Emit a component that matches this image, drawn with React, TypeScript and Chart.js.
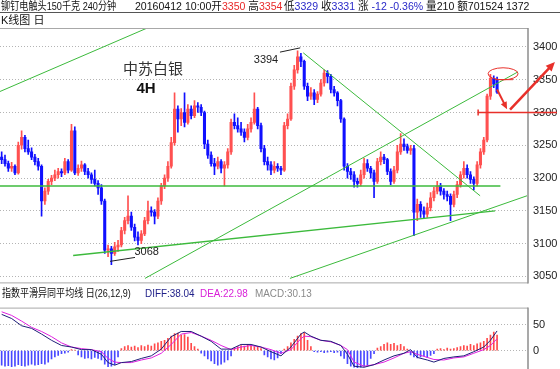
import React, { useEffect, useRef } from "react";
import { Chart, registerables } from "chart.js";

Chart.register(...registerables);

const OPEN = [
  3232,3228,3222,3215,3218,3208,3250,3262,3245,3240,
  3232,3225,3218,3165,3180,3195,3200,3205,3210,3208,
  3225,3212,3272,3208,3215,3220,3210,3205,3198,3192,
  3185,3165,3090,3092,3085,3095,3098,3120,3135,3142,
  3125,3110,3105,3115,3135,3150,3148,3142,3165,3188,
  3200,3218,3254,3305,3290,3300,3285,3305,3295,3310,
  3308,3300,3252,3235,3222,3218,3225,3215,3220,3240,
  3285,3280,3275,3270,3262,3275,3285,3305,3280,3245,
  3225,3220,3212,3218,3215,3212,3280,3290,3340,3365,
  3385,3378,3340,3325,3330,3320,3328,3345,3360,3355,
  3335,3330,3318,3290,3218,3210,3205,3195,3192,3205,
  3222,3215,3208,3195,3225,3232,3228,3210,3195,3212,
  3240,3252,3248,3242,3245,3148,3160,3150,3145,3155,
  3170,3180,3188,3180,3175,3172,3160,3175,3190,3205,
  3215,3205,3198,3192,3220,3240,3258,3325,3352,3350,
];
const HIGH = [
  3240,3235,3226,3224,3220,3255,3272,3265,3258,3246,
  3236,3230,3220,3185,3198,3204,3212,3215,3214,3230,
  3228,3282,3278,3220,3226,3222,3215,3208,3212,3196,
  3190,3168,3098,3096,3102,3105,3125,3140,3173,3148,
  3130,3118,3120,3140,3165,3156,3152,3170,3192,3205,
  3225,3262,3330,3310,3306,3330,3312,3310,3318,3315,
  3312,3302,3258,3240,3230,3232,3228,3225,3245,3290,
  3298,3292,3285,3275,3282,3292,3330,3308,3284,3250,
  3232,3225,3225,3222,3218,3285,3298,3345,3372,3394,
  3390,3380,3345,3338,3335,3332,3350,3365,3364,3358,
  3340,3332,3320,3292,3222,3215,3210,3200,3212,3230,
  3228,3218,3212,3230,3240,3236,3230,3214,3218,3250,
  3268,3260,3252,3250,3250,3168,3164,3156,3162,3178,
  3186,3195,3192,3184,3180,3176,3180,3195,3210,3225,
  3220,3210,3202,3225,3245,3262,3328,3358,3356,3354,
];
const LOW = [
  3222,3218,3210,3210,3205,3206,3244,3240,3236,3228,
  3220,3212,3142,3160,3175,3190,3196,3200,3202,3205,
  3208,3210,3205,3204,3210,3205,3200,3192,3188,3175,
  3160,3085,3080,3068,3082,3088,3095,3115,3130,3120,
  3104,3098,3100,3112,3130,3142,3130,3138,3160,3184,
  3195,3215,3250,3270,3280,3278,3282,3290,3292,3300,
  3295,3245,3230,3218,3205,3214,3208,3188,3215,3236,
  3275,3270,3265,3255,3258,3270,3282,3275,3240,3220,
  3212,3205,3208,3210,3205,3210,3275,3288,3335,3360,
  3370,3335,3318,3320,3312,3315,3325,3340,3345,3330,
  3325,3310,3285,3212,3200,3198,3186,3186,3188,3200,
  3210,3200,3170,3192,3220,3222,3205,3190,3192,3208,
  3236,3242,3238,3236,3112,3135,3140,3138,3140,3150,
  3165,3176,3174,3168,3165,3135,3156,3170,3186,3200,
  3200,3192,3182,3188,3215,3236,3255,3320,3338,3329,
];
const CLOSE = [
  3228,3222,3215,3218,3208,3250,3262,3245,3240,3232,
  3225,3218,3165,3180,3195,3200,3205,3210,3208,3225,
  3212,3272,3208,3215,3220,3210,3205,3198,3192,3185,
  3165,3090,3092,3085,3095,3098,3120,3135,3142,3125,
  3110,3105,3115,3135,3150,3148,3142,3165,3188,3200,
  3218,3254,3305,3290,3300,3285,3305,3295,3310,3308,
  3300,3252,3235,3222,3218,3225,3215,3220,3240,3285,
  3280,3275,3270,3262,3275,3285,3305,3280,3245,3225,
  3220,3212,3218,3215,3212,3280,3290,3340,3365,3385,
  3378,3340,3325,3330,3320,3328,3345,3360,3355,3335,
  3330,3318,3290,3218,3210,3205,3195,3192,3205,3222,
  3215,3208,3195,3225,3232,3228,3210,3195,3212,3240,
  3252,3248,3242,3245,3148,3160,3150,3145,3155,3170,
  3180,3188,3180,3175,3172,3160,3175,3190,3205,3215,
  3205,3198,3192,3220,3240,3258,3325,3352,3343,3331,
];

const PRICE_TICKS = [3050, 3100, 3150, 3200, 3250, 3300, 3350, 3400];
const MACD_TICKS = [0, 50];

const MACD_HIST = [
  -28,-30,-29,-31,-30,-27,-29,-30,-28,-26,-28,-27,-25,-26,-22,
  -16,-12,-9,
  -6,-5,-3,
  2,1,
  -8,-12,-15,-14,-16,-13,-15,-18,
  -26,-31,-30,-27,
  -12,
  4,8,10,7,9,6,10,8,11,9,
  13,15,18,20,24,
  28,33,34,30,31,26,
  14,8,3,
  -5,-10,-16,-20,-25,-28,-26,-22,-18,-10,
  5,8,10,9,12,10,8,7,4,
  -8,-12,-16,-18,-14,-6,
  3,8,15,22,28,33,35,
  20,8,
  -2,-3,-2,-4,-3,-2,-4,-3,
  -10,-15,
  -25,-30,-32,-33,-32,-30,-28,
  -15,-6,
  5,8,12,15,12,14,10,
  12,8,3,
  -8,-12,-14,-12,-10,-13,-9,-6,
  3,4,2,5,3,4,6,
  8,10,9,12,10,13,
  15,18,24,30,36,30.13,
];

const MACD_X = [0,3,6,9,12,15,18,21,24,27,30,32,34,36,39,42,45,48,51,54,57,60,63,66,69,72,75,78,81,84,87,90,91,93,96,99,102,104,106,109,112,115,118,121,123,125,128,130,133,136,139,142,145,147,149];
const DIFF = [70,62,48,43,32,20,10,7,2,2,-7,-23,-28,-23,-21,-15,-10,3,27,37,37,28,18,3,3,12,12,7,-2,-10,7,32,36,28,20,18,10,-7,-30,-32,-27,-18,-10,-5,2,-13,-18,-22,-15,-12,-10,-2,7,20,38.04];
const DEA = [75,68,57,45,37,27,15,7,4,2,-2,-15,-22,-23,-23,-18,-14,-5,12,32,35,28,20,10,2,7,10,7,2,-5,2,23,28,27,20,17,10,2,-22,-30,-27,-22,-14,-5,-2,-7,-13,-17,-18,-14,-12,-5,2,10,22.98];

// hand-drawn trend lines: [x1, price1, x2, price2] in candle-index / price units
const GREEN_LINES = [
  [-0.5, 3332, 48, 3438],
  [-0.5, 3188, 150, 3188],
  [43.1, 3047, 155.3, 3362],
  [21.5, 3082, 148.4, 3150],
  [86.7, 3047, 158, 3173],
  [90.7, 3391, 143.9, 3173],
];
const GREEN_WIDTHS = [1, 1.6, 1, 1.4, 1, 1];
const BLACK_LINES = [
  [83.7, 3392, 89.8, 3398.5],
  [32.6, 3073, 40.1, 3079],
];
const TEXT_NOTES = [
  { text: "中苏白银", x: 45.5, y: 3367 },
  { text: "4H", x: 43.4, y: 3336 },
  { text: "3394", x: 79.5, y: 3380 },
  { text: "3068", x: 43.6, y: 3088 },
];
const RED_ELLIPSE = [150.8, 3359];
const RED_STUB = [148.4, 153.8, 3350];
const RED_LEVEL = [143.3, 167.0, 3300];
const RED_ARROWS = [
  [149, 3335, 152, 3305],
  [152.9, 3304.5, 166.4, 3377],
];

const X_MIN = -0.5;
const X_MAX = 158.3;
const UP = "#ff5050";
const DOWN = "#1010ff";
const RED = "#e8302a";
const FONT = "'Liberation Sans', 'Noto Sans CJK SC', sans-serif";

function framePlugin(id: string) {
  return {
    id,
    afterDraw(chart: any) {
      const { ctx, chartArea: a } = chart;
      ctx.save();
      ctx.strokeStyle = "#a8a8a8";
      ctx.lineWidth = 1;
      ctx.beginPath();
      ctx.moveTo(0, a.top + 0.5);
      ctx.lineTo(a.right, a.top + 0.5);
      ctx.moveTo(0, a.bottom - 0.5);
      ctx.lineTo(a.right, a.bottom - 0.5);
      ctx.stroke();
      ctx.strokeStyle = "#8c8c8c";
      ctx.lineWidth = 1.5;
      ctx.beginPath();
      ctx.moveTo(a.right, a.top);
      ctx.lineTo(a.right, a.bottom);
      ctx.stroke();
      ctx.restore();
    },
  };
}

function drawArrow(ctx: CanvasRenderingContext2D, x1: number, y1: number, x2: number, y2: number, w: number, head: number) {
  const ang = Math.atan2(y2 - y1, x2 - x1);
  ctx.lineWidth = w;
  ctx.beginPath();
  ctx.moveTo(x1, y1);
  ctx.lineTo(x2 - Math.cos(ang) * head * 0.6, y2 - Math.sin(ang) * head * 0.6);
  ctx.stroke();
  ctx.beginPath();
  ctx.moveTo(x2, y2);
  ctx.lineTo(x2 - head * Math.cos(ang - 0.42), y2 - head * Math.sin(ang - 0.42));
  ctx.lineTo(x2 - head * Math.cos(ang + 0.42), y2 - head * Math.sin(ang + 0.42));
  ctx.closePath();
  ctx.fill();
}

const notesPlugin = {
  id: "notes",
  afterDraw(chart: any) {
    const { ctx } = chart;
    const sx = chart.scales.x;
    const sy = chart.scales.y;
    const X = (v: number) => sx.getPixelForValue(v);
    const Y = (v: number) => sy.getPixelForValue(v);
    ctx.save();
    ctx.strokeStyle = "#222";
    ctx.lineWidth = 1;
    BLACK_LINES.forEach((l) => {
      ctx.beginPath();
      ctx.moveTo(X(l[0]), Y(l[1]));
      ctx.lineTo(X(l[2]), Y(l[3]));
      ctx.stroke();
    });
    ctx.textAlign = "center";
    ctx.textBaseline = "middle";
    TEXT_NOTES.forEach((t, i) => {
      if (i === 0) {
        ctx.font = "15px 'Noto Sans CJK SC'";
        ctx.fillStyle = "#333";
      } else if (i === 1) {
        ctx.font = "bold 15px 'Liberation Sans'";
        ctx.fillStyle = "#111";
      } else {
        ctx.font = "11px 'Liberation Sans'";
        ctx.fillStyle = "#222";
      }
      ctx.fillText(t.text, X(t.x), Y(t.y));
    });
    ctx.strokeStyle = RED;
    ctx.fillStyle = RED;
    ctx.lineWidth = 1;
    ctx.beginPath();
    ctx.ellipse(X(RED_ELLIPSE[0]), Y(RED_ELLIPSE[1]), 15, 6, 0, 0, Math.PI * 2);
    ctx.stroke();
    ctx.beginPath();
    ctx.moveTo(X(RED_STUB[0]), Y(RED_STUB[2]));
    ctx.lineTo(X(RED_STUB[1]), Y(RED_STUB[2]));
    ctx.stroke();
    ctx.lineWidth = 1.5;
    const ly = Y(RED_LEVEL[2]);
    ctx.beginPath();
    ctx.moveTo(X(RED_LEVEL[0]), ly);
    ctx.lineTo(X(RED_LEVEL[1]), ly);
    ctx.moveTo(X(RED_LEVEL[0]), ly - 3);
    ctx.lineTo(X(RED_LEVEL[0]), ly + 3);
    ctx.stroke();
    drawArrow(ctx, X(RED_ARROWS[0][0]), Y(RED_ARROWS[0][1]), X(RED_ARROWS[0][2]), Y(RED_ARROWS[0][3]), 2, 8);
    drawArrow(ctx, X(RED_ARROWS[1][0]), Y(RED_ARROWS[1][1]), X(RED_ARROWS[1][2]), Y(RED_ARROWS[1][3]), 2.5, 10);
    ctx.restore();
  },
};

export default function App() {
  const priceRef = useRef<HTMLCanvasElement>(null);
  const macdRef = useRef<HTMLCanvasElement>(null);

  useEffect(() => {
    const colors = CLOSE.map((c, i) => (c >= OPEN[i] ? UP : DOWN));
    const tickFont = { family: "'Liberation Sans'", size: 11 };
    const plainTick = (v: any) => String(v);
    const priceChart = new Chart(priceRef.current as HTMLCanvasElement, {
      type: "bar",
      data: {
        datasets: [
          ...GREEN_LINES.map((l, i) => ({
            type: "line" as const,
            data: [
              { x: l[0], y: l[1] },
              { x: l[2], y: l[3] },
            ],
            borderColor: "#3cba3c",
            borderWidth: GREEN_WIDTHS[i],
            pointRadius: 0,
            order: 1,
          })),
          {
            type: "bar" as const,
            data: CLOSE.map((_, i) => ({ x: i, y: [LOW[i], HIGH[i]] })),
            backgroundColor: colors,
            barThickness: 1,
            grouped: false,
            order: 3,
          },
          {
            type: "bar" as const,
            data: CLOSE.map((c, i) => ({ x: i, y: [OPEN[i], c] })),
            backgroundColor: colors,
            barThickness: 2.4,
            minBarLength: 1,
            grouped: false,
            order: 2,
          },
        ] as any,
      },
      options: {
        responsive: false,
        animation: false,
        devicePixelRatio: 1,
        events: [],
        layout: { padding: { top: 28, bottom: 10, left: 0, right: 0 } },
        scales: {
          x: { type: "linear", min: X_MIN, max: X_MAX, display: false, offset: false },
          y: {
            position: "right",
            min: 3039.4,
            max: 3428.8,
            afterBuildTicks: (s: any) => {
              s.ticks = PRICE_TICKS.map((v) => ({ value: v }));
            },
            afterFit: (s: any) => {
              s.width = 32;
            },
            grid: { color: "#b4b4b4", drawTicks: false, lineWidth: 1 },
            border: { display: false, dash: [1, 2] },
            ticks: { padding: 5, color: "#222", font: tickFont, callback: plainTick },
          },
        },
        plugins: { legend: { display: false }, tooltip: { enabled: false } },
      } as any,
      plugins: [framePlugin("frame1"), notesPlugin],
    });

    const macdChart = new Chart(macdRef.current as HTMLCanvasElement, {
      type: "bar",
      data: {
        datasets: [
          {
            type: "line" as const,
            data: MACD_X.map((x, i) => ({ x, y: DIFF[i] })),
            borderColor: "#1e1e78",
            borderWidth: 1,
            pointRadius: 0,
            order: 1,
          },
          {
            type: "line" as const,
            data: MACD_X.map((x, i) => ({ x, y: DEA[i] })),
            borderColor: "#e020e0",
            borderWidth: 1,
            pointRadius: 0,
            order: 1,
          },
          {
            type: "bar" as const,
            data: MACD_HIST.map((v, i) => ({ x: i, y: v })),
            backgroundColor: MACD_HIST.map((v) => (v >= 0 ? "#ff4a4a" : "#4848ff")),
            barThickness: 1,
            grouped: false,
            order: 2,
          },
        ] as any,
      },
      options: {
        responsive: false,
        animation: false,
        devicePixelRatio: 1,
        events: [],
        layout: { padding: { top: 4, bottom: 10, left: 0, right: 0 } },
        scales: {
          x: { type: "linear", min: X_MIN, max: X_MAX, display: false, offset: false },
          y: {
            position: "right",
            min: -45.76,
            max: 83.05,
            afterBuildTicks: (s: any) => {
              s.ticks = MACD_TICKS.map((v) => ({ value: v }));
            },
            afterFit: (s: any) => {
              s.width = 32;
            },
            grid: { color: "#b4b4b4", drawTicks: false, lineWidth: 1 },
            border: { display: false, dash: [1, 2] },
            ticks: { padding: 5, color: "#222", font: tickFont, callback: plainTick },
          },
        },
        plugins: { legend: { display: false }, tooltip: { enabled: false } },
      } as any,
      plugins: [framePlugin("frame2")],
    });

    return () => {
      priceChart.destroy();
      macdChart.destroy();
    };
  }, []);

  const txt: React.CSSProperties = {
    position: "absolute",
    fontFamily: FONT,
    fontSize: 11,
    lineHeight: "12px",
    whiteSpace: "nowrap",
    color: "#111",
    transformOrigin: "0 0",
  };
  const red = { color: "#e82828" };
  const blue = { color: "#2828c8" };

  return (
    <div
      style={{
        position: "fixed",
        left: 0,
        top: 0,
        width: 560,
        height: 369,
        overflow: "hidden",
        background: "#fff",
      }}
    >
      <canvas ref={priceRef} width={560} height={295} style={{ position: "absolute", left: 0, top: 0 }} />
      <canvas ref={macdRef} width={560} height={90} style={{ position: "absolute", left: 0, top: 296 }} />
      <div style={{ ...txt, left: 1, top: 0, transform: "scaleX(0.83)" }}>铆钉电触头150千克 240分钟</div>
      <div style={{ ...txt, left: 135, top: 0, transform: "scaleX(0.96)" }}>
        20160412 10:00开<span style={red}>3350</span> 高<span style={red}>3354</span>
      </div>
      <div style={{ ...txt, left: 284, top: 0, transform: "scaleX(0.96)" }}>
        低<span style={blue}>3329</span> 收<span style={blue}>3331</span> 涨 <span style={blue}>-12 -0.36%</span> 量210 额701524 1372
      </div>
      <div style={{ position: "absolute", left: 0, top: 12, width: 560, height: 1, background: "#555" }} />
      <div style={{ ...txt, left: 1, top: 14 }}>K线图 日</div>
      <div style={{ ...txt, left: 2, top: 287, transform: "scaleX(0.82)" }}>指数平滑异同平均线 日(26,12,9)</div>
      <div style={{ ...txt, left: 145, top: 287, color: "#22228a", transform: "scaleX(0.9)" }}>DIFF:38.04</div>
      <div style={{ ...txt, left: 200, top: 287, color: "#d81ed8", transform: "scaleX(0.9)" }}>DEA:22.98</div>
      <div style={{ ...txt, left: 255, top: 287, color: "#8a8a8a", transform: "scaleX(0.9)" }}>MACD:30.13</div>
    </div>
  );
}
